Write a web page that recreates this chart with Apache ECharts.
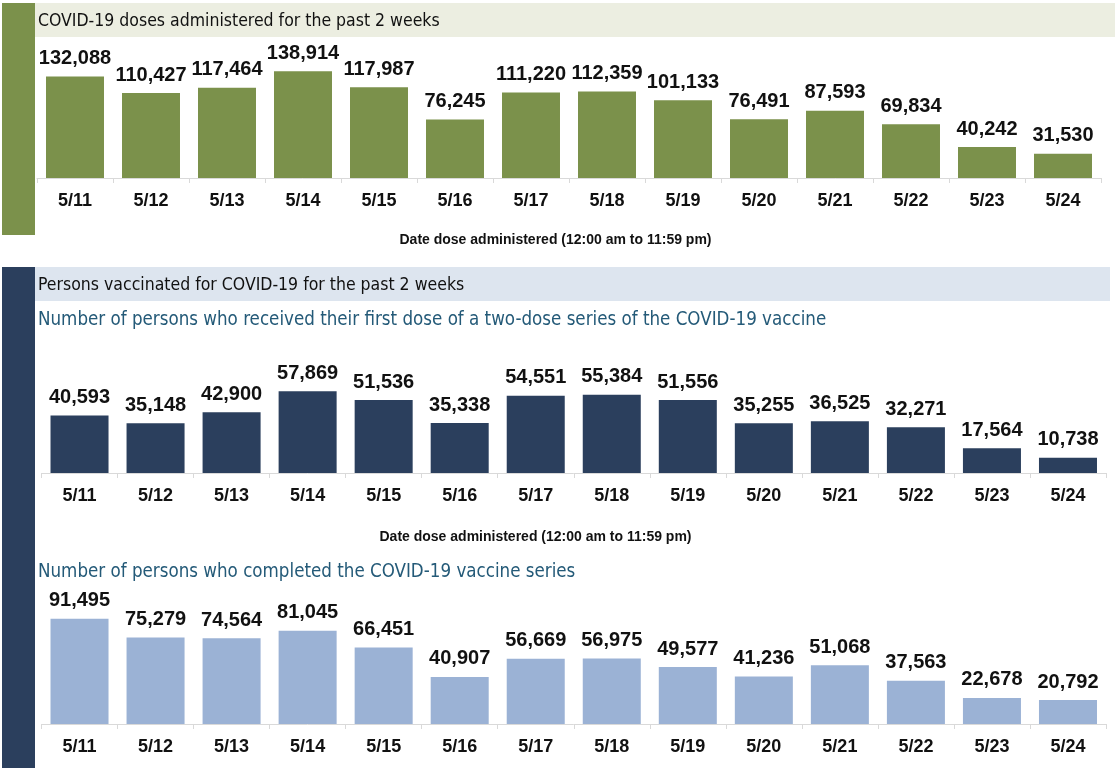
<!DOCTYPE html>
<html><head><meta charset="utf-8">
<style>html,body{margin:0;padding:0;background:#fff}#c{width:1115px;height:768px}</style>
<script src="https://cdn.jsdelivr.net/npm/echarts@6/dist/echarts.min.js"></script>
</head><body><div id="c"></div>
<script>
const dates = ['5/11','5/12','5/13','5/14','5/15','5/16','5/17','5/18','5/19','5/20','5/21','5/22','5/23','5/24'];
const dosesAdministered = [132088,110427,117464,138914,117987,76245,111220,112359,101133,76491,87593,69834,40242,31530];
const firstDose = [40593,35148,42900,57869,51536,35338,54551,55384,51556,35255,36525,32271,17564,10738];
const completedSeries = [91495,75279,74564,81045,66451,40907,56669,56975,49577,41236,51068,37563,22678,20792];

const title1 = 'COVID-19 doses administered for the past 2 weeks';
const title2 = 'Persons vaccinated for COVID-19 for the past 2 weeks';
const sub2a = 'Number of persons who received their first dose of a two-dose series of the COVID-19 vaccine';
const sub2b = 'Number of persons who completed the COVID-19 vaccine series';
const axisTitle = 'Date dose administered (12:00 am to 11:59 pm)';

const GREEN = '#7b914b', NAVY = '#2b3f5d', LIGHTBLUE = '#9bb2d5';
const headFont = 'DejaVu Sans Condensed';
const numFont = 'Liberation Sans';

const chart = echarts.init(document.getElementById('c'), null, {renderer:'canvas'});

function xAx(gi){
  return {
    type:'category', gridIndex:gi, data:dates,
    axisLine:{lineStyle:{color:'#d9d9d9', width:1}},
    axisTick:{show:true, length:5, lineStyle:{color:'#d9d9d9'}},
    axisLabel:{fontFamily:numFont, fontWeight:'bold', fontSize:18, color:'#111', margin:14}
  };
}
function yAx(gi, max){
  return {type:'value', gridIndex:gi, min:0, max:max, show:false, splitLine:{show:false}};
}
function ser(gi, data, color){
  return {
    type:'bar', xAxisIndex:gi, yAxisIndex:gi, data:data, barCategoryGap:'23.7%',
    itemStyle:{color:color},
    label:{show:true, position:'top', distance:8, fontFamily:numFont, fontWeight:'bold', fontSize:20, color:'#111',
      formatter:p=>p.value.toLocaleString('en-US')},
    silent:true
  };
}
const axisTitleFont = 'bold 14px "'+numFont+'"';

chart.setOption({
  animation:false,
  grid:[
    {left:37, right:14, top:55, bottom:590},
    {left:41.5, right:9, top:374, bottom:295},
    {left:41.5, right:9, top:609, bottom:44}
  ],
  xAxis:[xAx(0), xAx(1), xAx(2)],
  yAxis:[yAx(0,160000), yAx(1,70000), yAx(2,100000)],
  series:[ser(0,dosesAdministered,GREEN), ser(1,firstDose,NAVY), ser(2,completedSeries,LIGHTBLUE)],
  graphic:[
    {type:'rect', shape:{x:2,y:3,width:33,height:232}, style:{fill:GREEN}, z:-1},
    {type:'rect', shape:{x:35,y:3,width:1080,height:34}, style:{fill:'#eceee1'}, z:-1},
    {type:'text', left:38, top:12, style:{text:title1, font:'17.5px "'+headFont+'"', fill:'#111'}},
    {type:'text', x:555.5, y:240, style:{text:axisTitle, font:axisTitleFont, fill:'#111', textAlign:'center', textVerticalAlign:'middle'}},
    {type:'rect', shape:{x:2,y:267,width:33,height:501}, style:{fill:NAVY}, z:-1},
    {type:'rect', shape:{x:35,y:267,width:1075,height:34}, style:{fill:'#dde5ef'}, z:-1},
    {type:'text', left:38, top:276, style:{text:title2, font:'17.5px "'+headFont+'"', fill:'#111'}},
    {type:'text', left:38, top:311, style:{text:sub2a, font:'18.6px "'+headFont+'"', fill:'#245a78'}},
    {type:'text', x:535.5, y:537, style:{text:axisTitle, font:axisTitleFont, fill:'#111', textAlign:'center', textVerticalAlign:'middle'}},
    {type:'text', left:38, top:563, style:{text:sub2b, font:'18.6px "'+headFont+'"', fill:'#245a78'}}
  ]
});
</script></body></html>
